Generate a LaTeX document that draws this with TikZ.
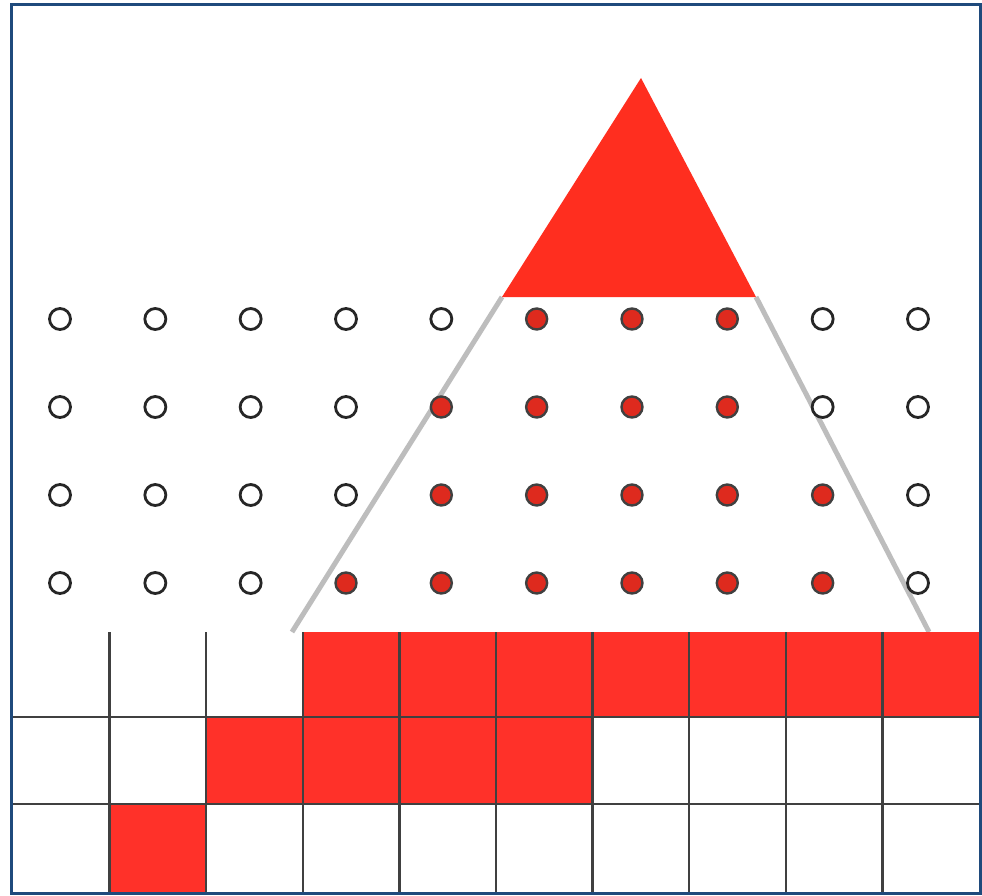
\documentclass[tikz,border=0pt]{standalone}
\usepackage{tikz}
\usetikzlibrary{shapes,positioning,calc}
\definecolor{frameblue}{HTML}{1F4A7C}
\definecolor{trired}{HTML}{FF2E1F}
\definecolor{dotred}{HTML}{DE2A1E}
\definecolor{cellred}{HTML}{FF3129}
\definecolor{guidegray}{HTML}{BDBDBD}

\tikzset{
  dotempty/.style={circle, draw=black!85, line width=2.8pt, fill=white, minimum size=21pt, inner sep=0pt},
  dotfull/.style={circle, draw=black!75, line width=2.4pt, fill=dotred, minimum size=21pt, inner sep=0pt},
  redcell/.style={fill=cellred},
  gridline/.style={draw=black!75, line width=2.4pt}
}

\begin{document}
\begin{tikzpicture}[x=1pt,y=-1pt]
  \useasboundingbox (0,0) rectangle (982,896);
  \fill[white] (0,0) rectangle (982,896);

  % triangle and its guide lines
  \coordinate (apex) at (641,78);
  \coordinate (baseL) at (502,297);
  \coordinate (baseR) at (756,297);
  \coordinate (footL) at (292,632);
  \coordinate (footR) at (929,632);
  \draw[guidegray, line width=5pt] (baseL) -- (footL);
  \draw[guidegray, line width=5pt] (baseR) -- (footR);
  \fill[trired] (apex) -- (baseR) -- (baseL) -- cycle;

  % sample points: row / y / first red / last red
  \foreach \r/\y/\a/\b in {1/319/6/8, 2/407/5/8, 3/495/5/9, 4/583/4/9} {
    \foreach \c in {1,...,10} {
      \ifnum\c<\a \def\dotstyle{dotempty}\else\ifnum\c>\b \def\dotstyle{dotempty}\else\def\dotstyle{dotfull}\fi\fi
      \node[\dotstyle] (d\r\c) at ({60+(\c-1)*95.33},\y) {};
    }
  }

  % pixel grid: row / top / bottom / first red / last red
  \foreach \r/\t/\u/\a/\b in {1/632/717/4/10, 2/717/804/3/6, 3/804/893/2/2} {
    \foreach \c in {\a,...,\b} {
      \fill[redcell] ({13+(\c-1)*96.6},\t) rectangle ({13+\c*96.6},\u);
    }
  }
  \foreach \k in {1,...,9} {
    \draw[gridline] ({13+\k*96.6},632) -- ({13+\k*96.6},893);
  }
  \draw[gridline] (13,717) -- (979,717);
  \draw[gridline] (13,804) -- (979,804);

  % frame
  \draw[frameblue, line width=3pt] (11.5,4.5) rectangle (980.5,893.5);
\end{tikzpicture}
\end{document}
